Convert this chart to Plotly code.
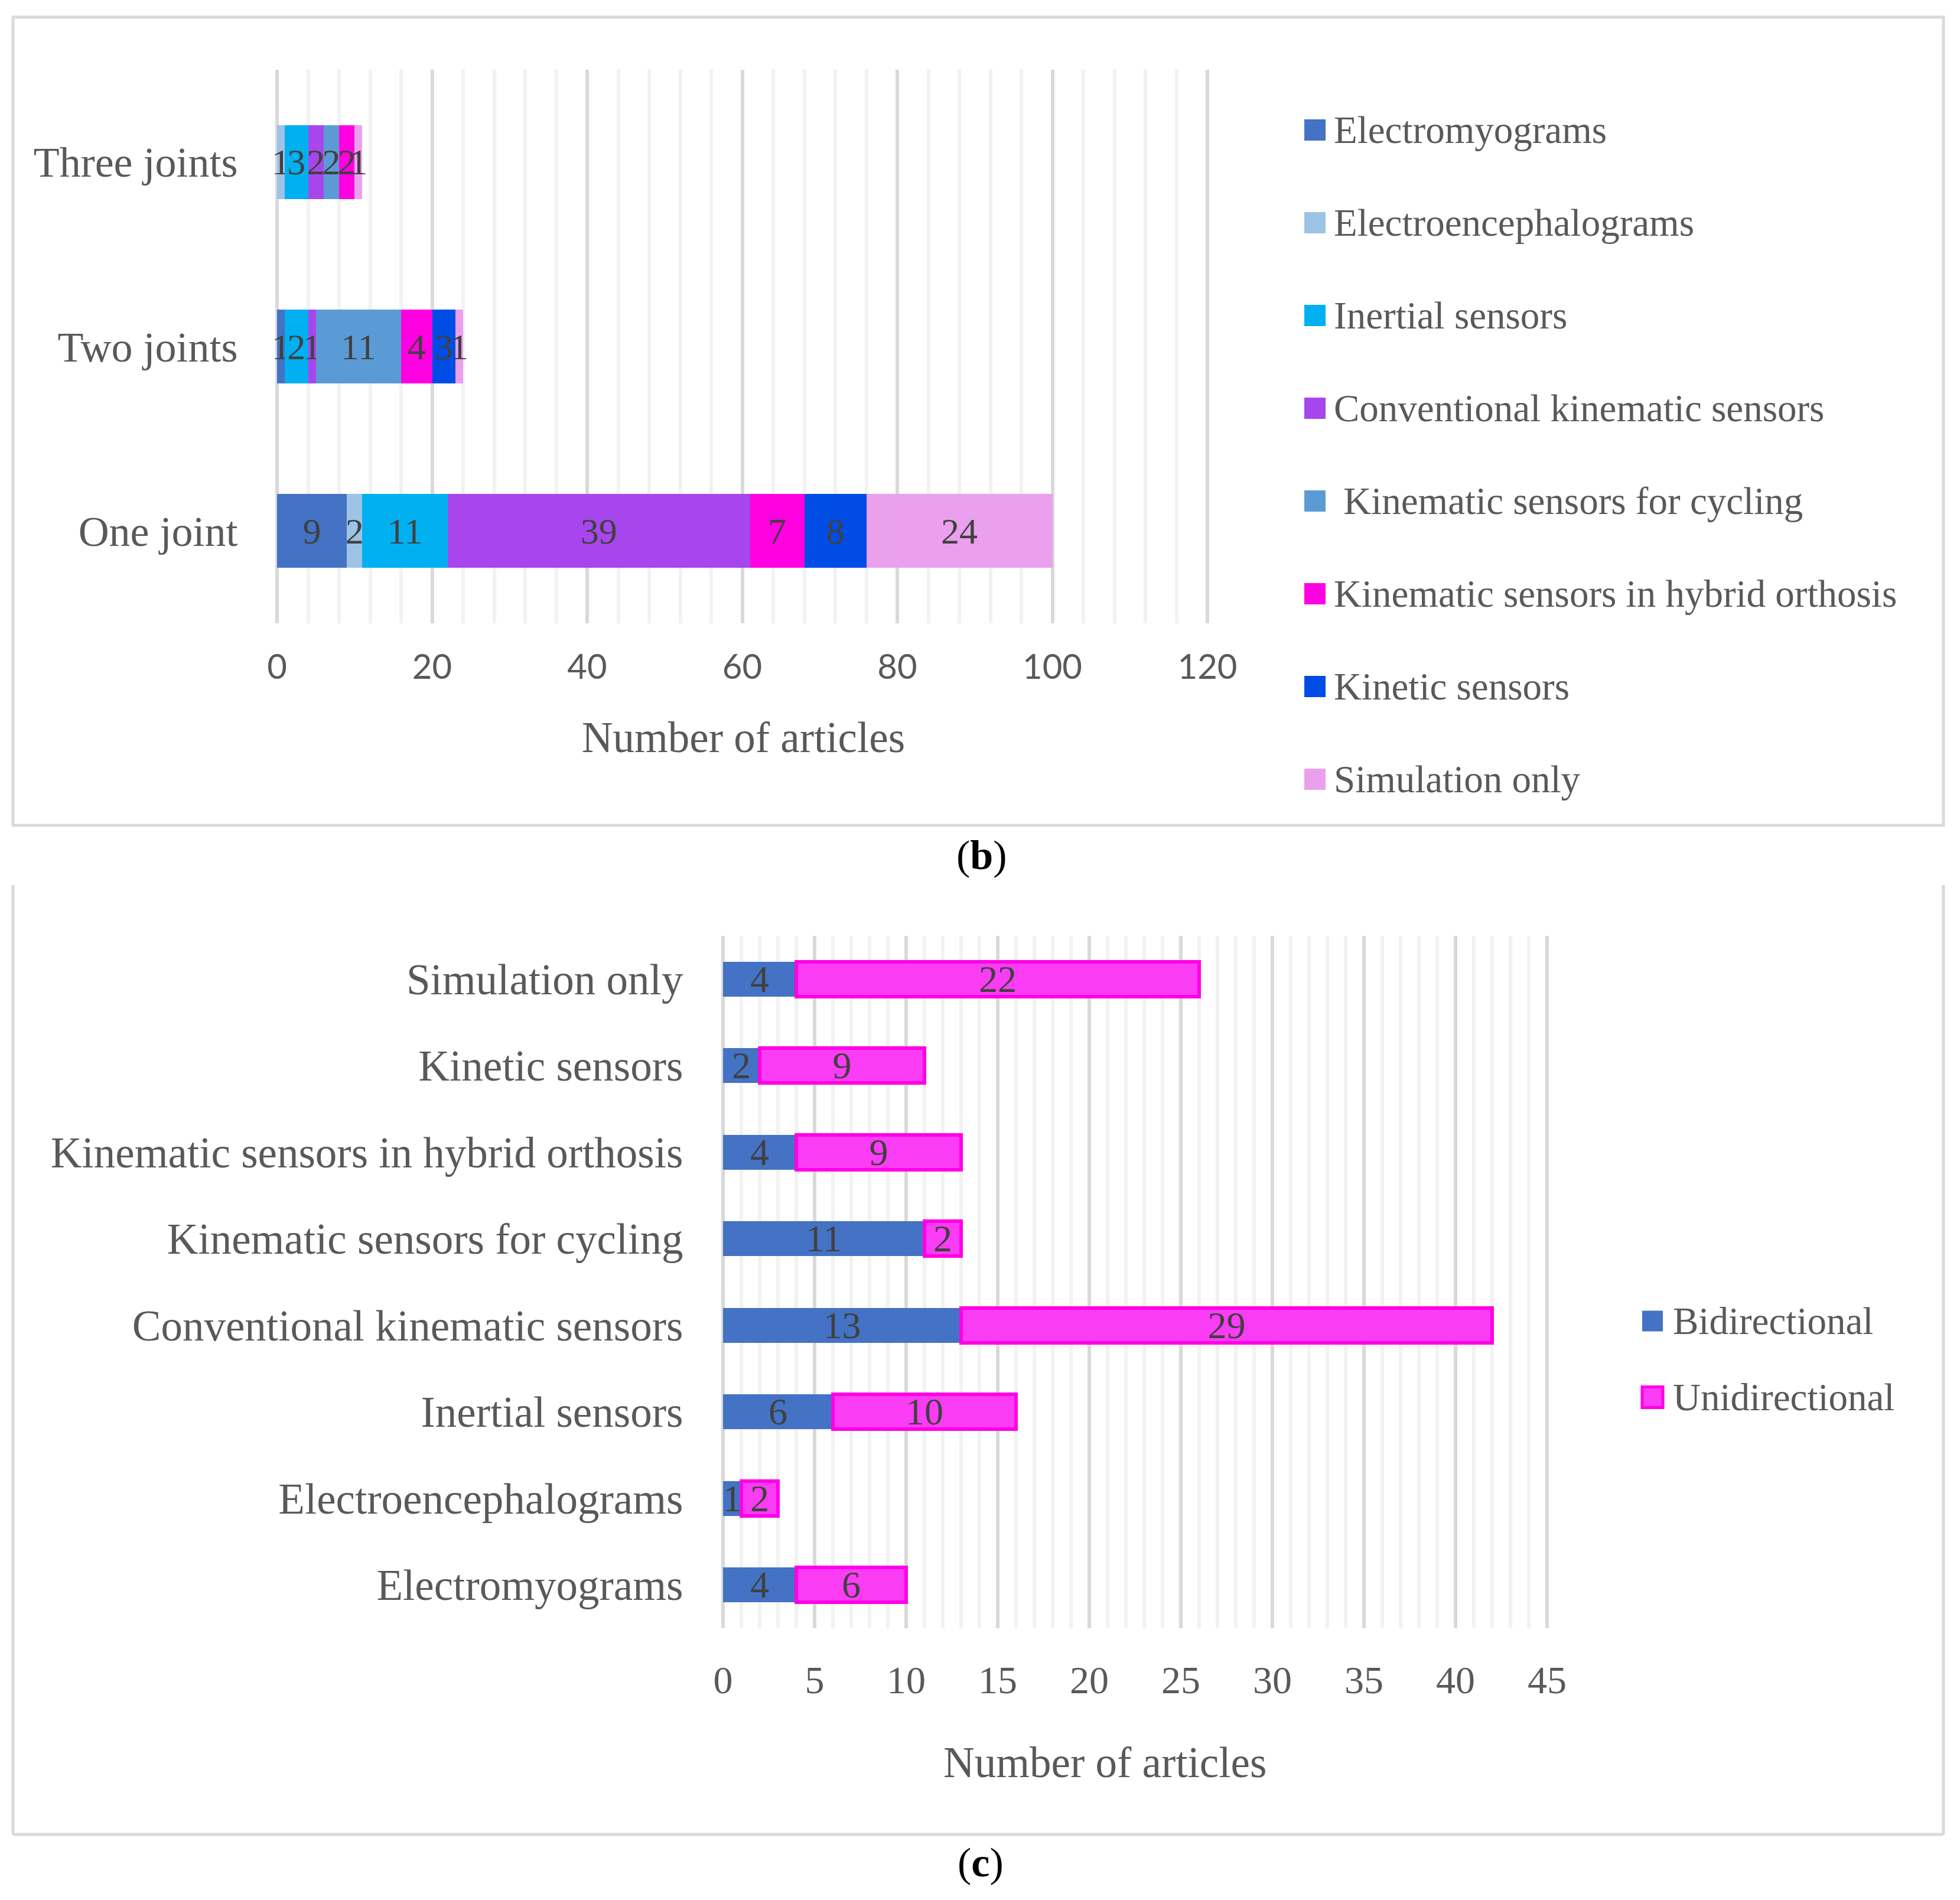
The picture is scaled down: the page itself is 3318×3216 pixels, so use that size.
import plotly.graph_objects as go

W, H = 3318, 3216

# ---------------- Data: panel (b) ----------------
joint_categories = ["One joint", "Two joints", "Three joints"]
sensor_series_b = [
    "Electromyograms",
    "Electroencephalograms",
    "Inertial sensors",
    "Conventional kinematic sensors",
    " Kinematic sensors for cycling",
    "Kinematic sensors in hybrid orthosis",
    "Kinetic sensors",
    "Simulation only",
]
# values per series for [One joint, Two joints, Three joints]
emg_b = [9, 1, 0]
eeg_b = [2, 0, 1]
inertial_b = [11, 3, 3]
inertial_b_labels = ["11", "2", "3"]
conventional_b = [39, 1, 2]
cycling_b = [0, 11, 2]
hybrid_b = [7, 4, 2]
kinetic_b = [8, 3, 0]
simulation_b = [24, 1, 1]
x_ticks_b = [0, 20, 40, 60, 80, 100, 120]

# ---------------- Data: panel (c) ----------------
sensor_categories_c = [
    "Electromyograms",
    "Electroencephalograms",
    "Inertial sensors",
    "Conventional kinematic sensors",
    "Kinematic sensors for cycling",
    "Kinematic sensors in hybrid orthosis",
    "Kinetic sensors",
    "Simulation only",
]
bidirectional = [4, 1, 6, 13, 11, 4, 2, 4]
unidirectional = [6, 2, 10, 29, 2, 9, 9, 22]
x_ticks_c = [0, 5, 10, 15, 20, 25, 30, 35, 40, 45]

colors_b = ["#4472C4", "#9DC3E6", "#00B0F0", "#A846ED",
            "#5B9BD5", "#FF00E0", "#004DE6", "#EAA0EC"]
series_values_b = [emg_b, eeg_b, inertial_b, conventional_b,
                   cycling_b, hybrid_b, kinetic_b, simulation_b]

SERIF = "Liberation Serif"
SANS = "Lato"
GREY = "#595959"
LABEL = "#404040"


def px_x(p):
    return p / W


def px_y(p):
    return 1 - p / H


fig = go.Figure()

for name, vals, col in zip(sensor_series_b, series_values_b, colors_b):
    if vals is inertial_b:
        labels = inertial_b_labels
    else:
        labels = [str(v) if v else "" for v in vals]
    fig.add_trace(go.Bar(
        y=joint_categories, x=vals, orientation="h", name=name,
        marker=dict(color=col, line=dict(width=0)),
        text=labels, textposition="inside", insidetextanchor="middle",
        textangle=0, constraintext="none", cliponaxis=False,
        textfont=dict(family=SERIF, size=62, color=LABEL),
        xaxis="x", yaxis="y", showlegend=False, hoverinfo="skip",
    ))

fig.add_trace(go.Bar(
    y=sensor_categories_c, x=bidirectional, orientation="h", name="Bidirectional",
    marker=dict(color="#4472C4", line=dict(width=0)),
    text=[str(v) for v in bidirectional], textposition="inside",
    insidetextanchor="middle", textangle=0, constraintext="none", cliponaxis=False,
    textfont=dict(family=SERIF, size=64, color=LABEL),
    xaxis="x2", yaxis="y2", showlegend=False, hoverinfo="skip",
))
fig.add_trace(go.Bar(
    y=sensor_categories_c, x=unidirectional, orientation="h", name="Unidirectional",
    marker=dict(color="#FA3CF5", line=dict(width=6, color="#FF00E6")),
    text=[str(v) for v in unidirectional], textposition="inside",
    insidetextanchor="middle", textangle=0, constraintext="none", cliponaxis=False,
    textfont=dict(family=SERIF, size=64, color=LABEL),
    xaxis="x2", yaxis="y2", showlegend=False, hoverinfo="skip",
))

grid_major = dict(showgrid=True, gridcolor="#D9D9D9", gridwidth=6,
                  zeroline=True, zerolinecolor="#D9D9D9", zerolinewidth=6,
                  showline=False)

shapes = []
annotations = []

# Outer boxes
shapes.append(dict(type="rect", xref="paper", yref="paper",
                   x0=px_x(22), x1=px_x(3290), y0=px_y(1397), y1=px_y(29),
                   line=dict(color="#D9D9D9", width=5), fillcolor="rgba(0,0,0,0)",
                   layer="below"))
for (xa, ya, xb, yb) in [(22, 1498, 22, 3105), (22, 3105, 3290, 3105), (3290, 1498, 3290, 3105)]:
    shapes.append(dict(type="line", xref="paper", yref="paper",
                       x0=px_x(xa), y0=px_y(ya), x1=px_x(xb), y1=px_y(yb),
                       line=dict(color="#D9D9D9", width=5), layer="below"))

# Legend (b)
leg_b_y = [220, 377, 534, 691, 848, 1005, 1162, 1319]
for name, col, cy in zip(sensor_series_b, colors_b, leg_b_y):
    shapes.append(dict(type="rect", xref="paper", yref="paper",
                       x0=px_x(2208), x1=px_x(2244), y0=px_y(cy + 18), y1=px_y(cy - 18),
                       fillcolor=col, line=dict(width=0)))
    annotations.append(dict(xref="paper", yref="paper", x=px_x(2256), y=px_y(cy),
                            xanchor="left", yanchor="middle", showarrow=False,
                            text=name.replace(" ", "\u00a0", 1) if name.startswith(" ") else name,
                            font=dict(family=SERIF, size=65, color=GREY)))

# Legend (c)
leg_c = [("Bidirectional", "#4472C4", "#4472C4", 0, 2236),
         ("Unidirectional", "#FA3CF5", "#FF00E6", 5, 2365)]
for name, fill, line_col, lw, cy in leg_c:
    shapes.append(dict(type="rect", xref="paper", yref="paper",
                       x0=px_x(2780), x1=px_x(2815), y0=px_y(cy + 17.5), y1=px_y(cy - 17.5),
                       fillcolor=fill, line=dict(width=lw, color=line_col)))
    annotations.append(dict(xref="paper", yref="paper", x=px_x(2830), y=px_y(cy),
                            xanchor="left", yanchor="middle", showarrow=False, text=name,
                            font=dict(family=SERIF, size=65, color=GREY)))

# Axis title of panel (c) (sits left of the plot centre in the original)
annotations.append(dict(xref="paper", yref="paper", x=px_x(1870), y=px_y(2983),
                        xanchor="center", yanchor="middle", showarrow=False,
                        text="Number of articles",
                        font=dict(family=SERIF, size=73, color=GREY)))

# Panel labels
annotations.append(dict(xref="paper", yref="paper", x=px_x(1662), y=px_y(1447),
                        xanchor="center", yanchor="middle", showarrow=False,
                        text="(<b>b</b>)", font=dict(family=SERIF, size=70, color="#000000")))
annotations.append(dict(xref="paper", yref="paper", x=px_x(1660), y=px_y(3152),
                        xanchor="center", yanchor="middle", showarrow=False,
                        text="(<b>c</b>)", font=dict(family=SERIF, size=70, color="#000000")))

# axis ranges extended a hair so that the gridline at the last tick is drawn
XB0, XB1 = 469, 2044
XC0, XC1 = 1224, 2619
rb, rc = 120.3, 45.1

fig.update_layout(
    width=W, height=H, autosize=False,
    margin=dict(l=0, r=0, t=0, b=0, pad=0),
    paper_bgcolor="white", plot_bgcolor="white",
    barmode="stack", bargap=0.6,
    font=dict(family=SERIF, color=GREY),
    showlegend=False,
    shapes=shapes, annotations=annotations,
    xaxis=dict(domain=[px_x(XB0), px_x(XB0 + (XB1 - XB0) * rb / 120)], range=[0, rb],
               tickmode="array", tickvals=x_ticks_b,
               ticks="outside", ticklen=23, tickcolor="rgba(0,0,0,0)",
               tickfont=dict(family=SANS, size=58, color=GREY),
               minor=dict(dtick=4, showgrid=True, gridcolor="#F2F2F2", gridwidth=6, ticks=""),
               title=dict(text="Number of articles", standoff=62,
                          font=dict(family=SERIF, size=73, color=GREY)),
               anchor="y", automargin=False, **grid_major),
    yaxis=dict(domain=[px_y(1055), px_y(118)], type="category",
               categoryorder="array", categoryarray=joint_categories,
               showgrid=False, zeroline=False, showline=False,
               ticks="outside", ticklen=51, tickcolor="rgba(0,0,0,0)",
               tickfont=dict(family=SERIF, size=72, color=GREY),
               anchor="x", automargin=False),
    xaxis2=dict(domain=[px_x(XC0), px_x(XC0 + (XC1 - XC0) * rc / 45)], range=[0, rc],
                tickmode="array", tickvals=x_ticks_c,
                ticks="outside", ticklen=30, tickcolor="rgba(0,0,0,0)",
                tickfont=dict(family=SERIF, size=66, color=GREY),
                minor=dict(dtick=1, showgrid=True, gridcolor="#F2F2F2", gridwidth=6, ticks=""),
                anchor="y2", automargin=False, **grid_major),
    yaxis2=dict(domain=[px_y(2756), px_y(1584)], type="category",
                categoryorder="array", categoryarray=sensor_categories_c,
                showgrid=False, zeroline=False, showline=False,
                ticks="outside", ticklen=52, tickcolor="rgba(0,0,0,0)",
                tickfont=dict(family=SERIF, size=73, color=GREY),
                anchor="x2", automargin=False),
)

fig.write_html("out.html", config={"displayModeBar": False},
               post_script="document.body.style.margin='0px';document.body.style.overflow='hidden';")
